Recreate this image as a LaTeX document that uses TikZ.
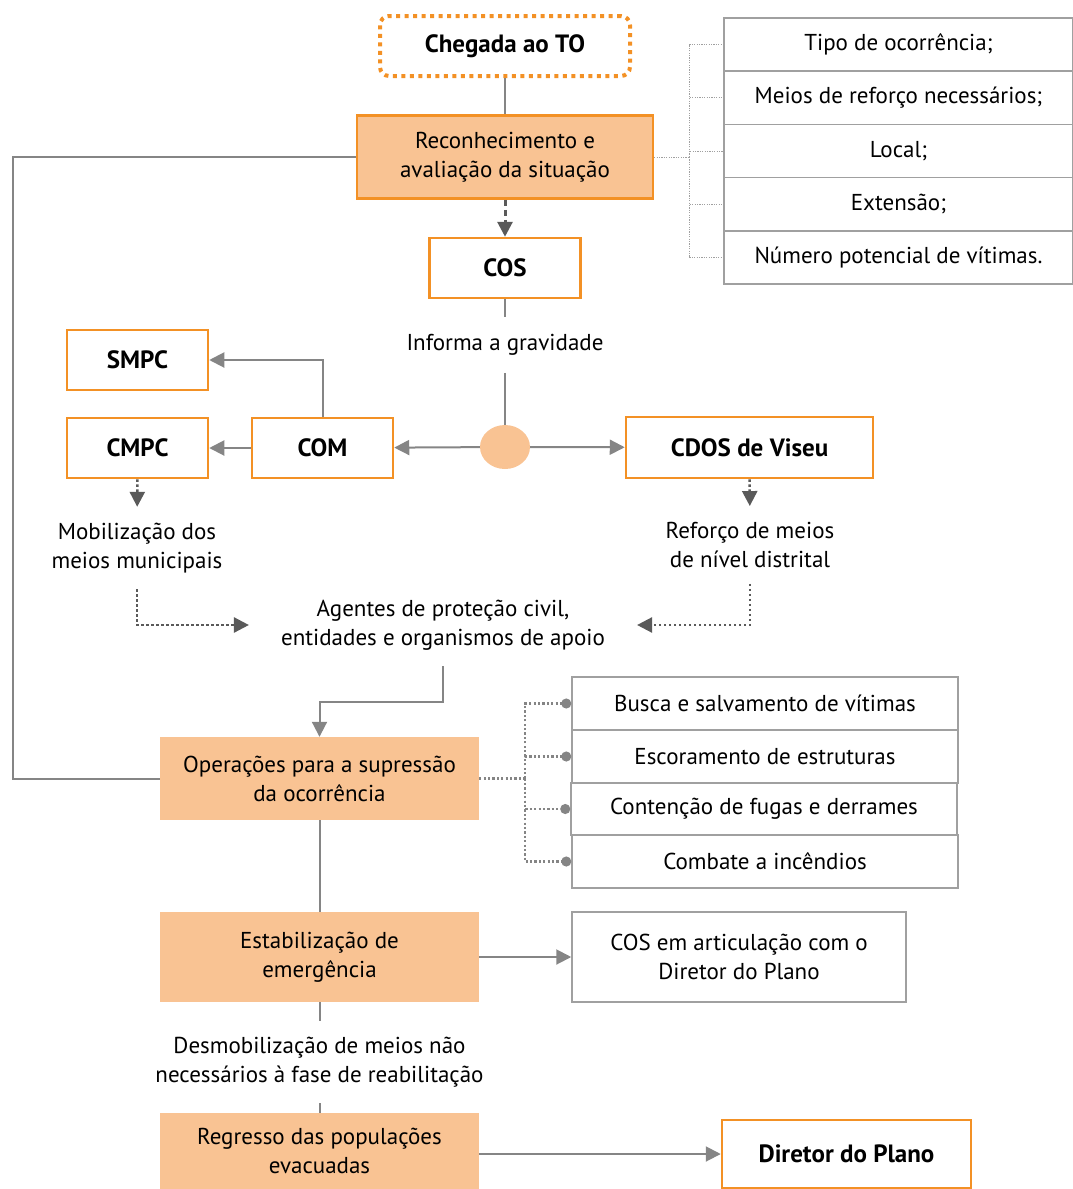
\documentclass[tikz,border=0pt]{standalone}
\usepackage{fontspec}
\setmainfont{PT Sans}
\usetikzlibrary{shapes,arrows.meta}
\definecolor{orng}{HTML}{F39125}
\definecolor{peach}{HTML}{F9C393}
\definecolor{lgray}{HTML}{858585}
\definecolor{dgray}{HTML}{5A5A5A}
\definecolor{bgray}{HTML}{A0A0A0}
\tikzstyle{box} = [draw=orng, line width=2.5pt, fill=white, rectangle, inner sep=0pt, font=\fontsize{25}{30}\selectfont\bfseries]
\tikzstyle{phase} = [fill=peach, rectangle, inner sep=0pt, align=center, minimum width=319pt]
\tikzstyle{item} = [draw=bgray, line width=1.5pt, rectangle, inner sep=0pt, align=center]
\tikzstyle{note} = [align=center, inner sep=16pt]
\tikzset{
	start/.style = {draw=orng, line width=4pt, dash pattern=on 4pt off 4.5pt, rounded corners=9pt,
		minimum width=250pt, minimum height=60pt, inner sep=0pt, font=\fontsize{25}{30}\selectfont\bfseries},
	hub/.style = {ellipse, fill=peach, minimum width=50pt, minimum height=44pt, inner sep=0pt},
	link/.style = {draw=lgray, line width=2pt},
	arr/.style = {link, ->},
	dasharr/.style = {draw=dgray, line width=3pt, dash pattern=on 6pt off 4pt, ->},
	dotarr/.style = {draw=dgray, line width=2.5pt, dash pattern=on 2.5pt off 2.5pt, ->},
	fine/.style = {draw=bgray, line width=1pt, dash pattern=on 1.2pt off 1.2pt},
	bullet/.style = {draw=lgray, line width=2.2pt, dash pattern=on 2.2pt off 2.2pt, -{Circle[length=10pt]}}
}
\begin{document}
\fontsize{23}{29}\selectfont
\begin{tikzpicture}[x=1pt, y=-1pt, >={Triangle[length=15pt,width=15pt]}]
    \useasboundingbox (0,0) rectangle (1073,1189);
    % We start by placing the main chain of blocks
    \node [start] (arrival) at (505,46) {Chegada ao TO};
    \node [phase, draw=orng, line width=2.5pt, minimum width=296pt, minimum height=83pt] (recon) at (505,157)
        {Reconhecimento e\\avaliação da situação};
    \node [box, minimum width=151pt, minimum height=60pt] (cos) at (505,268) {COS};
    \node [note, inner ysep=17pt] (grav) at (505,345) {Informa a gravidade};
    \node [hub] (hub) at (505,447) {};
    \node [box, minimum width=141pt, minimum height=60pt] (com) at (322.5,448) {COM};
    \node [box, minimum width=141pt, minimum height=60pt] (cmpc) at (137.5,448) {CMPC};
    \node [box, minimum width=141pt, minimum height=60pt] (smpc) at (137.5,360) {SMPC};
    \node [box, minimum width=247pt, minimum height=61pt] (cdos) at (749.5,447.5) {CDOS de Viseu};
    \node [note] (mob) at (137,548) {Mobilização dos\\meios municipais};
    \node [note] (ref) at (750,545) {Reforço de meios\\de nível distrital};
    \node [note, inner xsep=32pt] (agents) at (443,625)
        {Agentes de proteção civil,\\entidades e organismos de apoio};
    \node [phase, minimum height=83pt] (ops) at (319.5,778.5) {Operações para a supressão\\da ocorrência};
    \node [phase, minimum height=90pt] (stab) at (319.5,957) {Estabilização de\\emergência};
    \node [item, minimum width=334pt, minimum height=90pt] (cosart) at (739,957)
        {COS em articulação com o\\Diretor do Plano};
    \node [note] (desmob) at (319.5,1062) {Desmobilização de meios não\\necessários à fase de reabilitação};
    \node [phase, minimum height=76pt] (regr) at (319.5,1151) {Regresso das populações\\evacuadas};
    \node [box, minimum width=249pt, minimum height=68pt] (plano) at (846.5,1154) {Diretor do Plano};

    % Lists on the right
    \node [item, minimum width=349pt, minimum height=53.2pt] (t1) at (898.5,44.6) {Tipo de ocorrência;};
    \node [item, minimum width=349pt, minimum height=53.2pt] (t2) at (898.5,97.8) {Meios de reforço necessários;};
    \node [item, minimum width=349pt, minimum height=53.2pt] (t3) at (898.5,151) {Local;};
    \node [item, minimum width=349pt, minimum height=53.2pt] (t4) at (898.5,204.2) {Extensão;};
    \node [item, minimum width=349pt, minimum height=53.2pt] (t5) at (898.5,257.4) {Número potencial de vítimas.};
    \node [item, minimum width=386pt, minimum height=53pt] (b1) at (765,703.5) {Busca e salvamento de vítimas};
    \node [item, minimum width=386pt, minimum height=53pt] (b2) at (765,756.5) {Escoramento de estruturas};
    \node [item, minimum width=386pt, minimum height=53pt] (b3) at (764,809) {Contenção de fugas e derrames};
    \node [item, minimum width=386pt, minimum height=53pt] (b4) at (765,861.5) {Combate a incêndios};

    % Branch points
    \coordinate (rfork) at (689,157);
    \coordinate (ofork) at (525,778.5);
    \coordinate (loop) at (13,157);
    \coordinate (elbow) at (319.5,702);

    % Once the nodes are placed, connecting them is easy.
    \draw [link] (arrival) -- (recon);
    \draw [dasharr] (recon) -- (cos);
    \draw [link] (cos) -- (grav);
    \draw [link] (grav) -- (hub);
    \draw [arr] (hub) -- (com);
    \draw [arr] (hub) -- (cdos);
    \draw [arr] (com) -- (cmpc);
    \draw [arr] (com.north) |- (smpc.east);
    \draw [dotarr] (cmpc) -- (mob);
    \draw [dotarr] (cdos) -- (ref);
    \draw [dotarr] (mob.south) |- (agents.west);
    \draw [dotarr] (ref.south) |- (agents.east);
    \draw [arr] (agents.south) |- (elbow) -- (ops.north);
    \draw [link] (recon.west) -- (loop) |- (ops.west);
    \draw [fine] (recon.east) -- (rfork);
    \foreach \t in {t1,t2,t3,t4,t5}
        \draw [fine] (rfork) |- (\t.west);
    \draw [bullet, -] (ops.east) -- (ofork);
    \foreach \b in {b1,b2,b3,b4}
        \draw [bullet] (ofork) |- (\b.west);
    \draw [link] (ops) -- (stab);
    \draw [arr] (stab) -- (cosart);
    \draw [link] (stab) -- (desmob);
    \draw [link] (desmob) -- (regr);
    \draw [arr] (regr.east |- plano.west) -- (plano.west);
\end{tikzpicture}
\end{document}
